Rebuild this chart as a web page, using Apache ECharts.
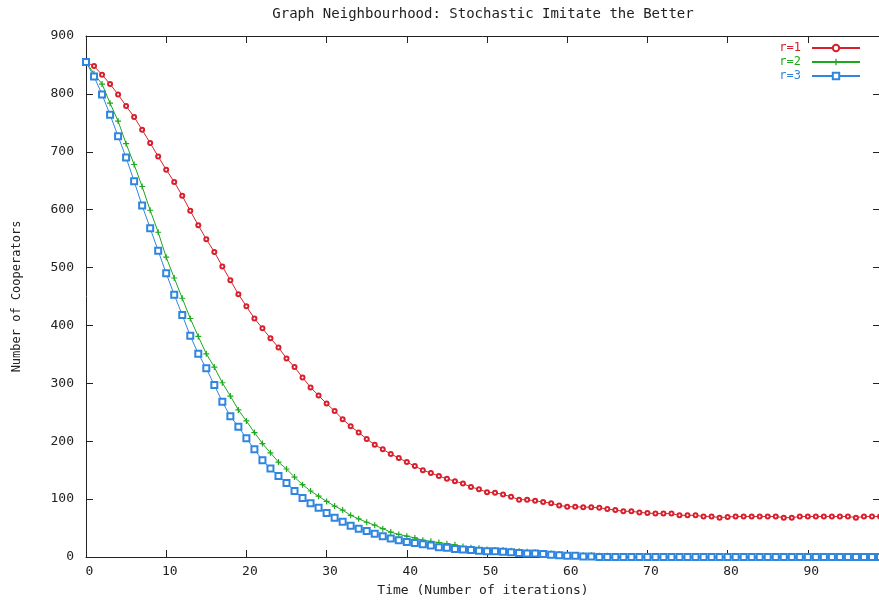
<!DOCTYPE html>
<html>
<head>
<meta charset="utf-8">
<script src="https://cdn.jsdelivr.net/npm/echarts@6/dist/echarts.min.js"></script>
<style>
html,body{margin:0;padding:0;background:#fff;}
#main{width:879px;height:603px;}
</style>
</head>
<body>
<div id="main"></div>
<script>
// cooperators per iteration
var names = ['r=1', 'r=2', 'r=3'];
var colors = ['#d8202c', '#1ea81e', '#2f86e0'];
var xTicks = [0, 10, 20, 30, 40, 50, 60, 70, 80, 90];
var yTicks = [0, 100, 200, 300, 400, 500, 600, 700, 800, 900];

var r1 = [855, 848, 833, 817, 799, 779, 760, 738, 715, 692,
	669, 648, 624, 598, 573, 549, 527, 502, 478, 454,
	433, 412, 395, 378, 362, 343, 328, 310, 293, 279,
	265, 252, 238, 226, 215, 204, 194, 186, 178, 171,
	164, 157, 150, 145, 140, 135, 131, 127, 121, 117,
	112, 111, 108, 104, 99, 99, 97, 95, 93, 89,
	87, 87, 86, 86, 85, 83, 81, 79, 79, 77,
	76, 75, 75, 75, 72, 72, 72, 70, 70, 68,
	69, 70, 70, 70, 70, 70, 70, 68, 68, 70,
	70, 70, 70, 70, 70, 70, 68, 70, 70, 70];

var r2 = [855, 835, 817, 784, 753, 714, 678, 640, 599, 561,
	518, 482, 447, 412, 381, 351, 328, 301, 278, 254,
	235, 215, 196, 180, 164, 152, 138, 125, 114, 105,
	96, 88, 81, 72, 66, 60, 55, 49, 43, 39,
	36, 33, 29, 27, 25, 23, 21, 18, 16, 15,
	13, 12, 12, 11, 10, 9, 8, 7, 6, 5,
	4, 3, 3, 3, 2, 2, 1, 1, 0, 0,
	0, 0, 0, 0, 0, 0, 0, 0, 0, 0,
	0, 0, 0, 0, 0, 0, 0, 0, 0, 0,
	0, 0, 0, 0, 0, 0, 0, 0, 0, 0];

var r3 = [855, 830, 799, 764, 727, 690, 649, 607, 568, 529,
	490, 453, 418, 382, 351, 326, 297, 268, 243, 225,
	205, 186, 167, 153, 140, 128, 114, 102, 93, 85,
	76, 68, 61, 54, 49, 45, 40, 36, 32, 29,
	26, 24, 22, 20, 17, 16, 14, 13, 12, 11,
	10, 10, 9, 8, 7, 6, 6, 5, 4, 3,
	2, 2, 1, 1, 0, 0, 0, 0, 0, 0,
	0, 0, 0, 0, 0, 0, 0, 0, 0, 0,
	0, 0, 0, 0, 0, 0, 0, 0, 0, 0,
	0, 0, 0, 0, 0, 0, 0, 0, 0, 0];

var font = 'DejaVu Sans Mono';
var ink = '#222';

function pairs(arr){
	var out = [];
	for (var i = 0; i < arr.length; i++) out.push([i, arr[i]]);
	return out;
}
function tickLabel(v){
	return xTicks.indexOf(v) >= 0 ? String(v) : '';
}

var chart = echarts.init(document.getElementById('main'), null, {renderer: 'canvas'});

var plus = 'path://M4,0H6V4H10V6H6V10H4V6H0V4H4Z';

// gnuplot style box: mirror axes on top and right, ticks pointing in
function frameAxis(pos){
	return {
		type: 'value',
		min: 0,
		max: pos === 'top' ? 99 : 900,
		interval: pos === 'top' ? 10 : 100,
		position: pos,
		axisLine: {show: true, onZero: false, lineStyle: {color: ink, width: 1}},
		axisTick: {show: true, inside: true, length: 7, lineStyle: {color: ink}},
		axisLabel: {show: false},
		splitLine: {show: false}
	};
}

var option = {
	animation: false,
	backgroundColor: '#fff',
	textStyle: {fontFamily: font},
	title: {
		text: 'Graph Neighbourhood: Stochastic Imitate the Better',
		left: 483,
		top: 7,
		textAlign: 'center',
		padding: 0,
		textStyle: {fontFamily: font, fontSize: 14, fontWeight: 'normal', color: ink}
	},
	legend: {
		orient: 'vertical',
		right: 18,
		top: 42,
		align: 'right',
		itemWidth: 48,
		itemHeight: 8,
		itemGap: 2,
		padding: 0,
		data: [
			{name: names[0], textStyle: {color: colors[0]}},
			{name: names[1], textStyle: {color: colors[1]}},
			{name: names[2], textStyle: {color: colors[2]}}
		],
		textStyle: {fontFamily: font, fontSize: 12, padding: [0, 6, 0, 0]}
	},
	grid: {left: 86, top: 36, right: -1, bottom: 46, containLabel: false, outerBoundsMode: 'none'},
	xAxis: [{
		type: 'value',
		min: 0,
		max: 99,
		interval: 10,
		position: 'bottom',
		name: 'Time (Number of iterations)',
		nameLocation: 'middle',
		nameGap: 27,
		nameTextStyle: {fontFamily: font, fontSize: 13, color: ink},
		axisLine: {show: true, onZero: false, lineStyle: {color: ink, width: 1}},
		axisTick: {show: true, inside: true, length: 7, lineStyle: {color: ink}},
		axisLabel: {fontFamily: font, fontSize: 13, color: ink, margin: 8, padding: [0, 0, 0, 7], formatter: tickLabel},
		splitLine: {show: false}
	}, frameAxis('top')],
	yAxis: [{
		type: 'value',
		min: yTicks[0],
		max: yTicks[yTicks.length - 1],
		interval: 100,
		position: 'left',
		name: 'Number of Cooperators',
		nameLocation: 'middle',
		nameGap: 63,
		nameRotate: 90,
		nameTextStyle: {fontFamily: font, fontSize: 12, color: ink},
		axisLine: {show: true, onZero: false, lineStyle: {color: ink, width: 1}},
		axisTick: {show: true, inside: true, length: 7, lineStyle: {color: ink}},
		axisLabel: {fontFamily: font, fontSize: 13, color: ink, margin: 12},
		splitLine: {show: false}
	}, frameAxis('right')],
	series: [{
		name: names[0],
		type: 'line',
		data: pairs(r1),
		symbol: 'emptyCircle',
		symbolSize: 4,
		color: colors[0],
		lineStyle: {width: 1, color: colors[0]},
		itemStyle: {color: colors[0], borderColor: colors[0], borderWidth: 1}
	}, {
		name: names[1],
		type: 'line',
		data: pairs(r2),
		symbol: plus,
		symbolSize: 6,
		color: colors[1],
		lineStyle: {width: 1, color: colors[1]},
		itemStyle: {color: colors[1], borderWidth: 0}
	}, {
		name: names[2],
		type: 'line',
		data: pairs(r3),
		symbol: 'emptyRect',
		symbolSize: 6,
		color: colors[2],
		lineStyle: {width: 1, color: colors[2]},
		itemStyle: {color: colors[2], borderColor: colors[2], borderWidth: 1}
	}]
};
chart.setOption(option);
</script>
</body>
</html>
